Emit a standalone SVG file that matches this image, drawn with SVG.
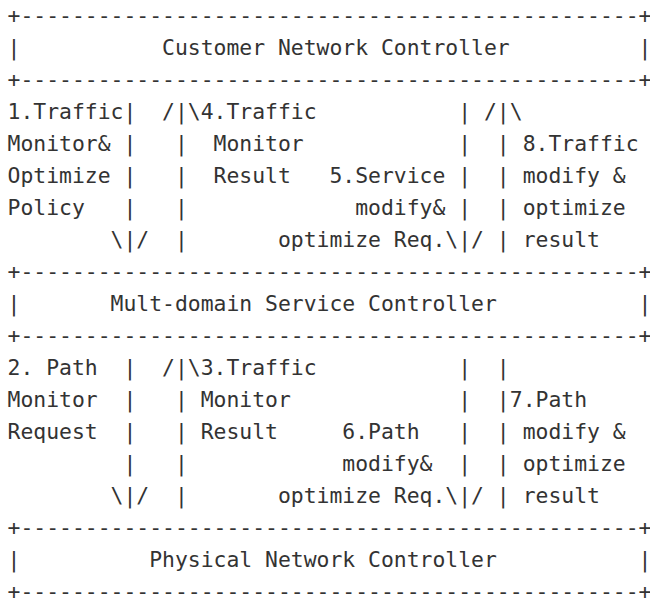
<svg xmlns="http://www.w3.org/2000/svg" width="650" height="603" viewBox="0 0 650 603">
<style>
text { font-family: "DejaVu Sans Mono", "Liberation Mono", monospace; font-size: 21.4px; fill: #333333; white-space: pre; }
</style>
<rect x="0" y="0" width="650" height="603" fill="#ffffff"/>
<g id="customer-network-controller">
<text x="7.5" y="23" xml:space="preserve">+------------------------------------------------+</text>
<text x="7.5" y="55" xml:space="preserve">|           Customer Network Controller          |</text>
<text x="7.5" y="87" xml:space="preserve">+------------------------------------------------+</text>
</g>
<g id="connectors">
<text x="7.5" y="119" xml:space="preserve">1.Traffic|  /|\4.Traffic           | /|\</text>
<text x="7.5" y="151" xml:space="preserve">Monitor&amp; |   |  Monitor            |  | 8.Traffic</text>
<text x="7.5" y="183" xml:space="preserve">Optimize |   |  Result   5.Service |  | modify &amp;</text>
<text x="7.5" y="215" xml:space="preserve">Policy   |   |             modify&amp; |  | optimize</text>
<text x="7.5" y="247" xml:space="preserve">        \|/  |       optimize Req.\|/ | result</text>
<text x="7.5" y="375" xml:space="preserve">2. Path  |  /|\3.Traffic           |  |</text>
<text x="7.5" y="407" xml:space="preserve">Monitor  |   | Monitor             |  |7.Path</text>
<text x="7.5" y="439" xml:space="preserve">Request  |   | Result     6.Path   |  | modify &amp;</text>
<text x="7.5" y="471" xml:space="preserve">         |   |            modify&amp;  |  | optimize</text>
<text x="7.5" y="503" xml:space="preserve">        \|/  |       optimize Req.\|/ | result</text>
</g>
<g id="mult-domain-service-controller">
<text x="7.5" y="279" xml:space="preserve">+------------------------------------------------+</text>
<text x="7.5" y="311" xml:space="preserve">|       Mult-domain Service Controller           |</text>
<text x="7.5" y="343" xml:space="preserve">+------------------------------------------------+</text>
</g>
<g id="physical-network-controller">
<text x="7.5" y="535" xml:space="preserve">+------------------------------------------------+</text>
<text x="7.5" y="567" xml:space="preserve">|          Physical Network Controller           |</text>
<text x="7.5" y="599" xml:space="preserve">+------------------------------------------------+</text>
</g>
</svg>
